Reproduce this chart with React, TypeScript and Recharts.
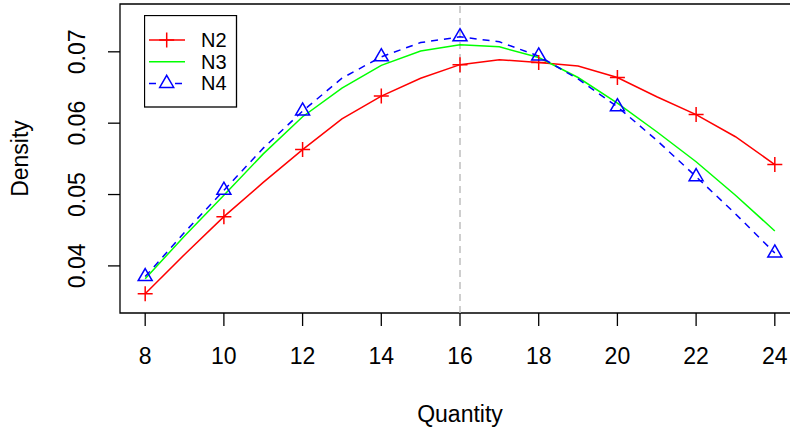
import React from "react";
import {
  LineChart,
  Line,
  XAxis,
  YAxis,
  ReferenceLine,
  ReferenceArea,
  Legend,
  Label,
} from "recharts";

const quantity = [8, 9, 10, 11, 12, 13, 14, 15, 16, 17, 18, 19, 20, 21, 22, 23, 24];
const n2 = [0.0361, 0.0416, 0.0469, 0.0517, 0.0563, 0.0606, 0.0638, 0.0663, 0.0682, 0.0689, 0.0685, 0.068, 0.0664, 0.0637, 0.0612, 0.0581, 0.0542];
const n3 = [0.0382, 0.0442, 0.0499, 0.0557, 0.0609, 0.0649, 0.0681, 0.0701, 0.071, 0.0707, 0.0692, 0.0664, 0.0628, 0.0588, 0.0546, 0.0499, 0.0449];
const n4 = [0.0385, 0.0447, 0.0506, 0.0565, 0.0617, 0.0663, 0.0693, 0.0713, 0.0721, 0.0714, 0.0694, 0.0662, 0.0623, 0.0576, 0.0525, 0.0473, 0.0418];

const xTicks = [8, 10, 12, 14, 16, 18, 20, 22, 24];
const yTicks = [0.04, 0.05, 0.06, 0.07];
const yTickLabels = ["0.04", "0.05", "0.06", "0.07"];
const seriesNames = ["N2", "N3", "N4"];

const FONT = "'Liberation Sans', Arial, Helvetica, sans-serif";

const data = quantity.map((q, i) => ({ x: q, N2: n2[i], N3: n3[i], N4: n4[i] }));

const PlusDot = (props: any) => {
  const { cx, cy, payload, index } = props;
  if (payload.x % 2 !== 0) return <g key={`p${index}`} />;
  return (
    <path
      key={`p${index}`}
      d={`M${cx - 7.5},${cy}H${cx + 7.5}M${cx},${cy - 7.5}V${cy + 7.5}`}
      stroke="#FF0000"
      strokeWidth={1.5}
      fill="none"
    />
  );
};

const triPath = (cx: number, cy: number) =>
  `M${cx},${cy - 8.1}L${cx + 7},${cy + 4}L${cx - 7},${cy + 4}Z`;

const TriDot = (props: any) => {
  const { cx, cy, payload, index } = props;
  if (payload.x % 2 !== 0) return <g key={`t${index}`} />;
  return <path key={`t${index}`} d={triPath(cx, cy)} stroke="#0000FF" strokeWidth={1.5} fill="none" />;
};

const XTick = (props: any) => {
  const { x, payload } = props;
  return (
    <text x={x} y={364} textAnchor="middle" fontSize={23} fontFamily={FONT} fill="#000">
      {payload.value}
    </text>
  );
};

const YTick = (props: any) => {
  const { y, payload } = props;
  const i = yTicks.indexOf(payload.value);
  return (
    <text
      x={85}
      y={y}
      transform={`rotate(-90, 85, ${y})`}
      textAnchor="middle"
      fontSize={23}
      fontFamily={FONT}
      fill="#000"
    >
      {i >= 0 ? yTickLabels[i] : payload.value}
    </text>
  );
};

const LegendBox = () => {
  const rows = [0, 1, 2];
  return (
    <svg width={94} height={94} style={{ display: "block" }}>
      <rect x={0.5} y={0.5} width={92} height={91.5} fill="#fff" stroke="#000" strokeWidth={1.3} />
      {rows.map((r) => {
        const cy = 25 + r * 21.7;
        return (
          <g key={r}>
            {r === 0 && (
              <>
                <line x1={5} x2={41} y1={cy} y2={cy} stroke="#FF0000" strokeWidth={1.5} />
                <path d={`M${15.2},${cy}H${30.2}M${22.7},${cy - 7.5}V${cy + 7.5}`} stroke="#FF0000" strokeWidth={1.5} />
              </>
            )}
            {r === 1 && <line x1={5} x2={41} y1={cy} y2={cy} stroke="#00FF00" strokeWidth={1.5} />}
            {r === 2 && (
              <>
                <line x1={5} x2={41} y1={cy} y2={cy} stroke="#0000FF" strokeWidth={1.5} strokeDasharray="7 6" />
                <path d={triPath(22.7, cy)} stroke="#0000FF" strokeWidth={1.5} fill="#fff" />
              </>
            )}
            <text x={57} y={cy + 7} fontSize={20} fontFamily={FONT} fill="#000">
              {seriesNames[r]}
            </text>
          </g>
        );
      })}
    </svg>
  );
};

export default function App() {
  return (
    <div
      style={{
        position: "absolute",
        left: 0,
        top: 0,
        width: 790,
        height: 430,
        overflow: "hidden",
        background: "#fff",
      }}
    >
      <LineChart
        width={810}
        height={430}
        data={data}
        margin={{ top: 4, right: 10, bottom: 57, left: 60 }}
      >
        <XAxis
          dataKey="x"
          type="number"
          domain={[7.36, 24.64]}
          ticks={xTicks}
          allowDataOverflow
          height={60}
          axisLine={false}
          tickSize={13}
          tickLine={{ stroke: "#000", strokeWidth: 1.3 }}
          tick={<XTick />}
        >
          <Label
            content={(props: any) => {
              const vb = props.viewBox || { x: 120, width: 680 };
              return (
                <text
                  x={vb.x + vb.width / 2}
                  y={422}
                  textAnchor="middle"
                  fontSize={23}
                  fontFamily={FONT}
                  fill="#000"
                >
                  Quantity
                </text>
              );
            }}
          />
        </XAxis>
        <YAxis
          type="number"
          domain={[0.0334, 0.0767]}
          ticks={yTicks}
          allowDataOverflow
          width={60}
          axisLine={false}
          tickSize={12}
          tickLine={{ stroke: "#000", strokeWidth: 1.3 }}
          tick={<YTick />}
        >
          <Label
            content={(props: any) => {
              const vb = props.viewBox || { y: 4, height: 308 };
              const cy = vb.y + vb.height / 2;
              return (
                <text
                  x={28}
                  y={cy}
                  transform={`rotate(-90, 28, ${cy})`}
                  textAnchor="middle"
                  fontSize={23}
                  fontFamily={FONT}
                  fill="#000"
                >
                  Density
                </text>
              );
            }}
          />
        </YAxis>
        <ReferenceLine x={16} stroke="#BEBEBE" strokeWidth={1.5} strokeDasharray="7 5" />
        <Line
          type="linear"
          dataKey="N2"
          stroke="#FF0000"
          strokeWidth={1.5}
          dot={(p: any) => <PlusDot {...p} />}
          activeDot={false}
          isAnimationActive={false}
        />
        <Line
          type="linear"
          dataKey="N3"
          stroke="#00FF00"
          strokeWidth={1.5}
          dot={false}
          activeDot={false}
          isAnimationActive={false}
        />
        <Line
          type="linear"
          dataKey="N4"
          stroke="#0000FF"
          strokeWidth={1.5}
          strokeDasharray="7 6"
          dot={(p: any) => <TriDot {...p} />}
          activeDot={false}
          isAnimationActive={false}
        />
        <ReferenceArea
          x1={7.36}
          x2={24.64}
          y1={0.0334}
          y2={0.0767}
          fill="none"
          fillOpacity={0}
          stroke="#000"
          strokeWidth={1.3}
          ifOverflow="visible"
        />
        <Legend
          layout="vertical"
          align="center"
          verticalAlign="middle"
          wrapperStyle={{ left: 144, top: 15, width: 94, height: 94 }}
          content={() => <LegendBox />}
        />
      </LineChart>
    </div>
  );
}
